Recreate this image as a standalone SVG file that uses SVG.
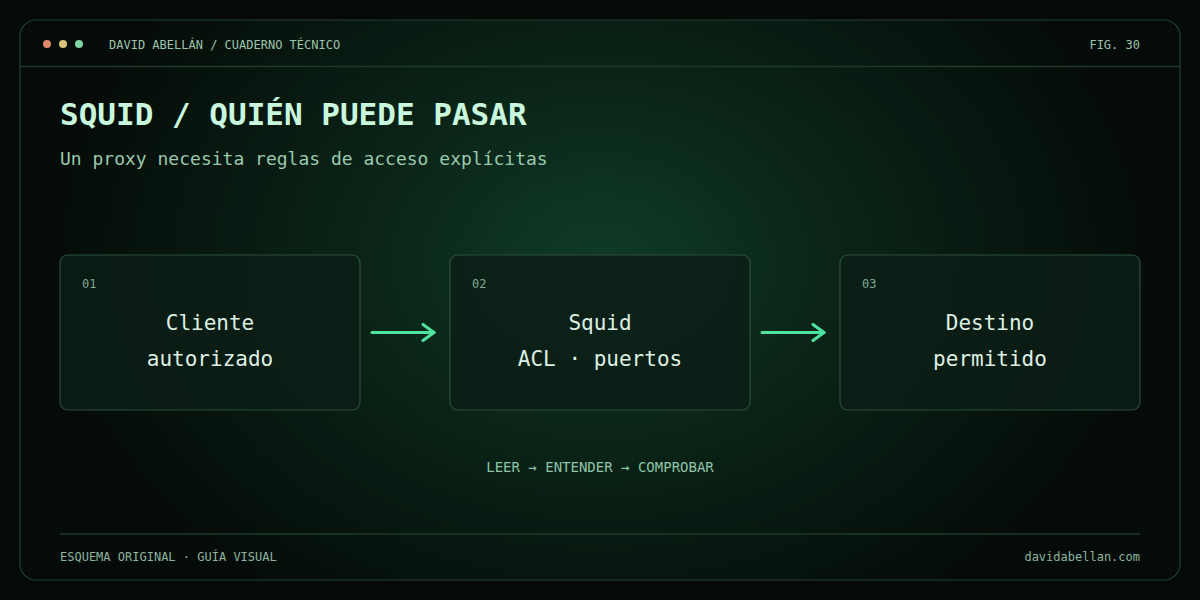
<svg xmlns="http://www.w3.org/2000/svg" width="1200" height="600" viewBox="0 0 1200 600">
  <defs>
    <radialGradient id="bg" cx="600" cy="260" r="560" gradientUnits="userSpaceOnUse" gradientTransform="translate(600 260) scale(1 0.75) translate(-600 -260)">
      <stop offset="0" stop-color="#0f3b26"/>
      <stop offset="0.45" stop-color="#0a2317"/>
      <stop offset="1" stop-color="#050b08"/>
    </radialGradient>
    <marker id="arr" viewBox="0 0 20 20" refX="17" refY="10" markerWidth="20" markerHeight="20" markerUnits="userSpaceOnUse" orient="auto">
      <path d="M6 2 L17 10 L6 18" fill="none" stroke="#4fe3a0" stroke-width="3" stroke-linecap="round" stroke-linejoin="round"/>
    </marker>
    <style>
      .mono { font-family: "DejaVu Sans Mono", "Liberation Mono", monospace; }
      .hdr { font-size: 12px; fill: #9dc4aa; }
      .title { font-size: 31px; font-weight: bold; fill: #c9f7dd; }
      .sub { font-size: 18px; fill: #9bc9ae; }
      .box { fill: #0c1d16; fill-opacity: 0.85; stroke: #2c4f3d; stroke-width: 1.2; }
      .num { font-size: 12px; fill: #7fa893; }
      .lbl { font-size: 21px; fill: #dcefe2; text-anchor: middle; }
      .conn { stroke: #4fe3a0; stroke-width: 3; fill: none; stroke-linecap: round; }
      .foot { font-size: 12px; fill: #8fb59e; }
    </style>
  </defs>
  <rect x="0" y="0" width="1200" height="600" fill="#050a08"/>
  <rect x="20" y="20" width="1160" height="560" rx="16" fill="url(#bg)" stroke="#24402f" stroke-width="1.2"/>
  <line x1="20" y1="66.5" x2="1180" y2="66.5" stroke="#1f3a2b" stroke-width="1.5"/>
  <circle cx="47" cy="44" r="4" fill="#e0876a"/>
  <circle cx="63" cy="44" r="4" fill="#d9c27c"/>
  <circle cx="79" cy="44" r="4" fill="#7fd3a2"/>
  <text class="mono hdr" x="109" y="48.5">DAVID ABELLÁN / CUADERNO TÉCNICO</text>
  <text class="mono hdr" x="1140" y="48.5" text-anchor="end">FIG. 30</text>
  <text class="mono title" x="60" y="125">SQUID / QUIÉN PUEDE PASAR</text>
  <text class="mono sub" x="60" y="165">Un proxy necesita reglas de acceso explícitas</text>

  <g id="node1">
    <rect class="box" x="60" y="255" width="300" height="155" rx="8"/>
    <text class="mono num" x="82" y="287.5">01</text>
    <text class="mono lbl" x="210" y="330">Cliente</text>
    <text class="mono lbl" x="210" y="366">autorizado</text>
  </g>
  <g id="node2">
    <rect class="box" x="450" y="255" width="300" height="155" rx="8"/>
    <text class="mono num" x="472" y="287.5">02</text>
    <text class="mono lbl" x="600" y="330">Squid</text>
    <text class="mono lbl" x="600" y="366">ACL · puertos</text>
  </g>
  <g id="node3">
    <rect class="box" x="840" y="255" width="300" height="155" rx="8"/>
    <text class="mono num" x="862" y="287.5">03</text>
    <text class="mono lbl" x="990" y="330">Destino</text>
    <text class="mono lbl" x="990" y="366">permitido</text>
  </g>

  <g id="connectors">
    <line class="conn" x1="372" y1="332.5" x2="434" y2="332.5" marker-end="url(#arr)"/>
    <line class="conn" x1="762" y1="332.5" x2="824" y2="332.5" marker-end="url(#arr)"/>
  </g>

  <text class="mono" x="600" y="471.5" font-size="14" fill="#8fc4a6" text-anchor="middle">LEER → ENTENDER → COMPROBAR</text>
  <line x1="60" y1="534" x2="1140" y2="534" stroke="#1f3a2b" stroke-width="1.5"/>
  <text class="mono foot" x="60" y="560.5">ESQUEMA ORIGINAL · GUÍA VISUAL</text>
  <text class="mono foot" x="1140" y="560.5" text-anchor="end">davidabellan.com</text>
</svg>
